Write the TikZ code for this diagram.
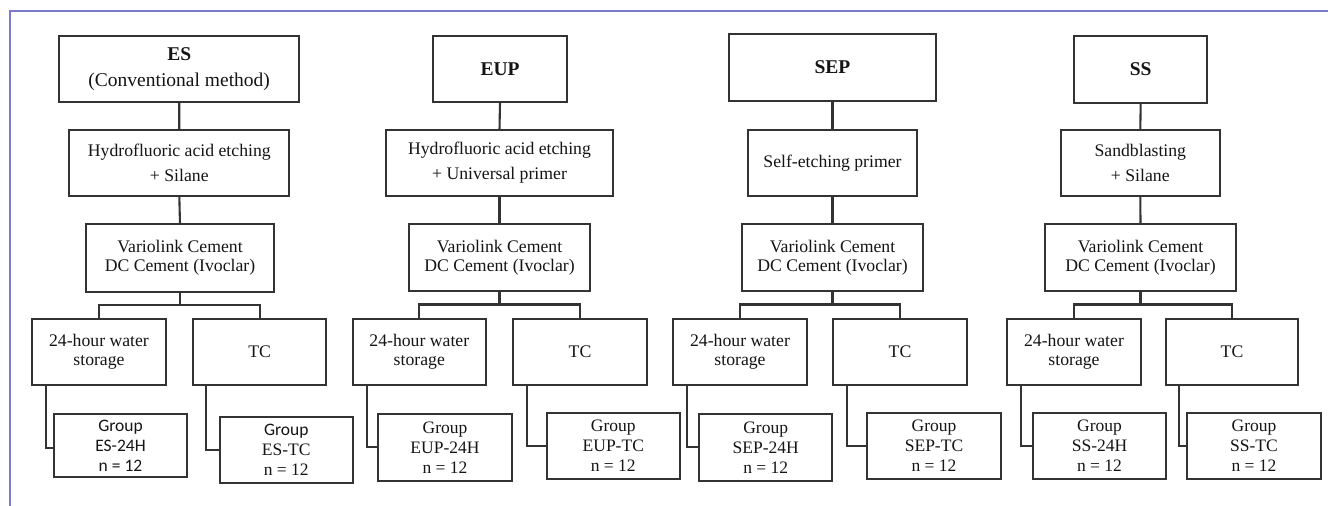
\documentclass[tikz,border=0pt]{standalone}
\usepackage{fontspec}
\setmainfont{Liberation Serif}
\newfontfamily\grpsans{Carlito}
\definecolor{framecol}{HTML}{7A7BD0}
\definecolor{linecol}{HTML}{333333}
\definecolor{textcol}{HTML}{151515}
\tikzset{
  box/.style={draw=linecol, line width=2.1pt, rectangle, inner sep=0pt, outer sep=0pt,
    align=center, text=textcol},
  titlebox/.style={box, font=\fontsize{19.5}{26.5}\selectfont},
  widebox/.style={box, font=\fontsize{17.7}{25}\selectfont},
  tightbox/.style={box, font=\fontsize{17.7}{18.8}\selectfont},
  groupbox/.style={box, font=\fontsize{17.5}{20}\selectfont},
  conn/.style={draw=linecol, line width=2.1pt}
}
\begin{document}
\begin{tikzpicture}[x=1pt,y=-1pt]
\useasboundingbox (0,0) rectangle (1328,506);
\fill[white] (0,0) rectangle (1328,506);
\draw[framecol, line width=2pt] (1328,10.5) -- (9.5,10.5) -- (9.5,506);

% ---------------- ES column
\node[titlebox, minimum width=239.7pt, minimum height=65.7pt] (esT) at (179.2,68.9) {\textbf{ES}\\(Conventional method)};
\node[widebox, minimum width=220pt, minimum height=66pt] (esA) at (179.3,163) {Hydrofluoric acid etching\\+ Silane};
\node[tightbox, minimum width=188pt, minimum height=67.7pt] (esV) at (180,257.8) {Variolink Cement\\DC Cement (Ivoclar)};
\node[tightbox, minimum width=133.4pt, minimum height=66pt] (esW) at (99,352) {24-hour water\\storage};
\node[tightbox, minimum width=132.7pt, minimum height=66pt] (esC) at (259.7,352) {TC};
\node[groupbox, minimum width=132.4pt, minimum height=63.3pt] (esG1) at (120.5,445.7) {\grpsans Group\\\grpsans ES-24H\\\grpsans n = 12};
\node[groupbox, minimum width=132.7pt, minimum height=66pt] (esG2) at (286.3,449.7) {{\grpsans Group}\\ES-TC\\n = 12};
\path (esV.south) ++(0,13.3) coordinate (esJ);
\draw[conn] (esT.south) -- (esA.north);
\draw[conn] (esA.south) -- (esV.north);
\draw[conn] (esV.south) -- (esJ);
\draw[conn] (esW.north) |- (esJ) -| (esC.north);
\draw[conn] ([xshift=13.7pt]esW.south west) |- ([yshift=-2.5pt]esG1.west);
\draw[conn] ([xshift=12.4pt]esC.south west) |- (esG2.west);

% ---------------- EUP column
\node[titlebox, minimum width=133.4pt, minimum height=65.7pt] (euT) at (500,68.9) {\textbf{EUP}};
\node[widebox, minimum width=227.6pt, minimum height=66pt] (euA) at (499.5,163) {Hydrofluoric acid etching\\+ Universal primer};
\node[tightbox, minimum width=181pt, minimum height=67pt] (euV) at (499.5,257.5) {Variolink Cement\\DC Cement (Ivoclar)};
\node[tightbox, minimum width=133.3pt, minimum height=66pt] (euW) at (419.3,352) {24-hour water\\storage};
\node[tightbox, minimum width=133.4pt, minimum height=66pt] (euC) at (580,352) {TC};
\node[groupbox, minimum width=133.4pt, minimum height=66.7pt] (euG1) at (445,447.3) {Group\\EUP-24H\\n = 12};
\node[groupbox, minimum width=133.3pt, minimum height=66.3pt] (euG2) at (613.3,445.8) {Group\\EUP-TC\\n = 12};
\path (euV.south) ++(0,13.5) coordinate (euJ);
\draw[conn] (euT.south) -- (euA.north);
\draw[conn] (euA.south) -- (euV.north);
\draw[conn] (euV.south) -- (euJ);
\draw[conn] (euW.north) |- (euJ) -| (euC.north);
\draw[conn] ([xshift=14pt]euW.south west) |- (euG1.west);
\draw[conn] ([xshift=13.4pt]euC.south west) |- (euG2.west);

% ---------------- SEP column
\node[titlebox, minimum width=206.4pt, minimum height=66.7pt] (seT) at (832.5,67.3) {\textbf{SEP}};
\node[widebox, minimum width=169.6pt, minimum height=66pt] (seA) at (832.5,163) {Self-etching primer};
\node[tightbox, minimum width=180.4pt, minimum height=67pt] (seV) at (832.5,257.5) {Variolink Cement\\DC Cement (Ivoclar)};
\node[tightbox, minimum width=133.4pt, minimum height=66pt] (seW) at (740,352) {24-hour water\\storage};
\node[tightbox, minimum width=133.4pt, minimum height=66pt] (seC) at (900,352) {TC};
\node[groupbox, minimum width=133.3pt, minimum height=66.7pt] (seG1) at (765.7,447.3) {Group\\SEP-24H\\n = 12};
\node[groupbox, minimum width=133.3pt, minimum height=66.3pt] (seG2) at (934,445.8) {Group\\SEP-TC\\n = 12};
\path (seV.south) ++(0,13.5) coordinate (seJ);
\draw[conn] (seT.south) -- (seA.north);
\draw[conn] (seA.south) -- (seV.north);
\draw[conn] (seV.south) -- (seJ);
\draw[conn] (seW.north) |- (seJ) -| (seC.north);
\draw[conn] ([xshift=13.4pt]seW.south west) |- (seG1.west);
\draw[conn] ([xshift=14pt]seC.south west) |- (seG2.west);

% ---------------- SS column
\node[titlebox, minimum width=133.3pt, minimum height=66.7pt] (ssT) at (1140.7,69.3) {\textbf{SS}};
\node[widebox, minimum width=159.3pt, minimum height=66pt] (ssA) at (1140.3,163) {Sandblasting\\+ Silane};
\node[tightbox, minimum width=191pt, minimum height=67pt] (ssV) at (1140.5,257.5) {Variolink Cement\\DC Cement (Ivoclar)};
\node[tightbox, minimum width=133.4pt, minimum height=66pt] (ssW) at (1074,352) {24-hour water\\storage};
\node[tightbox, minimum width=132.6pt, minimum height=66pt] (ssC) at (1232,352) {TC};
\node[groupbox, minimum width=132.4pt, minimum height=66.3pt] (ssG1) at (1099.5,445.8) {Group\\SS-24H\\n = 12};
\node[groupbox, minimum width=133.4pt, minimum height=66.3pt] (ssG2) at (1254,445.8) {Group\\SS-TC\\n = 12};
\path (ssV.south) ++(0,13.5) coordinate (ssJ);
\draw[conn] (ssT.south) -- (ssA.north);
\draw[conn] (ssA.south) -- (ssV.north);
\draw[conn] (ssV.south) -- (ssJ);
\draw[conn] (ssW.north) |- (ssJ) -| (ssC.north);
\draw[conn] ([xshift=13.7pt]ssW.south west) |- (ssG1.west);
\draw[conn] ([xshift=13.6pt]ssC.south west) |- (ssG2.west);
\end{tikzpicture}
\end{document}
